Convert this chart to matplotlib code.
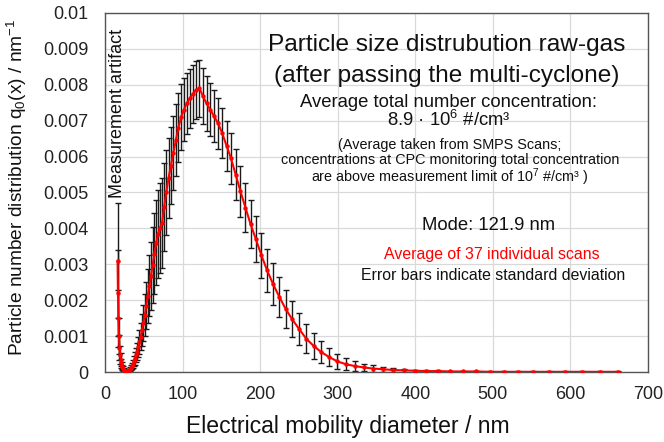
import matplotlib
matplotlib.use("Agg")
import matplotlib.pyplot as plt
from matplotlib.ticker import FixedLocator, FixedFormatter

plt.rcParams['font.family'] = ['Liberation Sans', 'DejaVu Sans']
plt.rcParams['mathtext.fontset'] = 'custom'
plt.rcParams['mathtext.rm'] = 'Liberation Sans'
plt.rcParams['mathtext.it'] = 'Liberation Sans'
plt.rcParams['mathtext.default'] = 'regular'

# Electrical mobility diameter (nm), SMPS channels
diameter = [16.3, 16.8, 17.5, 18.1, 18.8, 19.5, 20.2, 20.9, 21.7, 22.5, 23.3, 24.1,
            25.0, 25.9, 26.9, 27.9, 28.9, 30.0, 31.1, 32.2, 33.4, 34.6, 35.9, 37.2,
            38.5, 40.0, 41.4, 42.9, 44.5, 46.1, 47.8, 49.6, 51.4, 53.3, 55.2, 57.3,
            59.4, 61.5, 63.8, 66.1, 68.5, 71.0, 73.7, 76.4, 79.1, 82.0, 85.1, 88.2,
            91.4, 94.7, 98.2, 101.8, 105.5, 109.4, 113.4, 117.6, 121.9, 126.3, 131.0,
            135.8, 140.7, 145.9, 151.2, 156.8, 162.5, 168.5, 174.7, 181.1, 187.7,
            194.6, 201.7, 209.1, 216.7, 224.7, 232.9, 241.4, 250.3, 259.5, 269.0,
            278.8, 289.0, 299.6, 310.6, 322.0, 333.8, 346.0, 358.7, 371.8, 385.4,
            399.5, 414.2, 429.4, 445.1, 461.4, 478.3, 495.8, 514.0, 532.8, 552.3,
            572.5, 593.5, 615.3, 637.8, 661.2]

# Mean number distribution q0 (1/nm)
q0_mean = [0.0031, 0.0022, 0.0015, 0.0010, 0.00068, 0.00048, 0.00034, 0.00025, 0.00018,
           0.00013, 0.00010, 0.00007, 0.00005, 0.00003, 0.00002, 0.00002, 0.00002,
           0.00003, 0.00005, 0.00008, 0.00012, 0.00017, 0.00023, 0.00030, 0.00038,
           0.00047, 0.00057, 0.00069, 0.00083, 0.00099, 0.00117, 0.00137, 0.00160,
           0.00185, 0.00212, 0.00240, 0.00268, 0.00298, 0.00330, 0.00360, 0.00385,
           0.00402, 0.00415, 0.00460, 0.00500, 0.00540, 0.00575, 0.00610, 0.00645,
           0.00680, 0.00710, 0.00730, 0.00748, 0.00762, 0.00775, 0.00785, 0.00790,
           0.00768, 0.00748, 0.00730, 0.00712, 0.00692, 0.00665, 0.00630, 0.00595,
           0.00550, 0.00503, 0.00458, 0.00412, 0.00370, 0.00325, 0.00283, 0.00245,
           0.00210, 0.00176, 0.00147, 0.00120, 0.00093, 0.00073, 0.00056, 0.00042,
           0.00030, 0.00022, 0.00017, 0.00013, 0.00010, 0.00008, 0.00006, 0.00005,
           0.00004, 0.00003, 0.00003, 0.00002, 0.00002, 0.00002, 0.00001, 0.00001,
           0.00001, 0.00001, 0.00001, 0.00001, 0.00001, 0.00001, 0.00001]

# Standard deviation (1/nm)
q0_std = [0.0016, 0.0012, 0.0008, 0.0005, 0.00035, 0.00025, 0.00018, 0.00013, 0.00010,
          0.00008, 0.00006, 0.00005, 0.00004, 0.00003, 0.00002, 0.00002, 0.00002,
          0.00003, 0.00004, 0.00005, 0.00007, 0.00009, 0.00011, 0.00014, 0.00017,
          0.00020, 0.00024, 0.00028, 0.00033, 0.00038, 0.00044, 0.00050, 0.00058,
          0.00066, 0.00075, 0.00085, 0.00095, 0.00105, 0.00112, 0.00118, 0.00122,
          0.00125, 0.00125, 0.00122, 0.00118, 0.00112, 0.00108, 0.00104, 0.00100,
          0.00096, 0.00092, 0.00088, 0.00085, 0.00083, 0.00081, 0.00080, 0.00079,
          0.00078, 0.00076, 0.00074, 0.00072, 0.00070, 0.00070, 0.00070, 0.00070,
          0.00070, 0.00070, 0.00068, 0.00066, 0.00064, 0.00062, 0.00060, 0.00058,
          0.00056, 0.00054, 0.00050, 0.00045, 0.00040, 0.00035, 0.00030, 0.00025,
          0.00020, 0.00017, 0.00014, 0.00011, 0.00009, 0.00007, 0.00005, 0.00004,
          0.00003, 0.00003, 0.00002, 0.00002, 0.00002, 0.00001, 0.00001, 0.00001,
          0.00001, 0.00001, 0.00001, 0.00001, 0.00001, 0.00001, 0.00001]

x_ticks = [0, 100, 200, 300, 400, 500, 600, 700]
y_ticks = [0, 0.001, 0.002, 0.003, 0.004, 0.005, 0.006, 0.007, 0.008, 0.009, 0.01]
y_tick_labels = ["0", "0.001", "0.002", "0.003", "0.004", "0.005", "0.006",
                 "0.007", "0.008", "0.009", "0.01"]

fig = plt.figure(figsize=(6.64, 4.42), dpi=100)
ax = fig.add_axes([0.158, 0.158, 0.818, 0.813])

ax.errorbar(diameter, q0_mean, yerr=q0_std, fmt='none', ecolor='#1a1a1a',
            elinewidth=1.0, capsize=2.2, capthick=1.0, zorder=2)
ax.plot(diameter, q0_mean, color='#ff0000', lw=1.5, marker='o', ms=3.2,
        markeredgewidth=0, zorder=3)

ax.set_xlim(0, 700)
ax.set_ylim(0, 0.01)
ax.xaxis.set_major_locator(FixedLocator(x_ticks))
ax.yaxis.set_major_locator(FixedLocator(y_ticks))
ax.yaxis.set_major_formatter(FixedFormatter(y_tick_labels))
ax.grid(True, color='#d9d9d9', lw=0.9, zorder=0)
ax.set_axisbelow(True)
ax.tick_params(axis='both', length=0, labelsize=13, colors='#222222')
ax.tick_params(axis='x', pad=10)
ax.tick_params(axis='y', pad=12)
for s in ax.spines.values():
    s.set_color('#555555')
    s.set_linewidth(1.0)

ax.set_xlabel("Electrical mobility diameter / nm", fontsize=16.6, color='#111111')
ax.xaxis.set_label_coords(0.448, -0.118)
ax.set_ylabel("Particle number distribution q$_0$(x) / nm$^{-1}$", fontsize=13.8,
              color='#111111')
ax.yaxis.set_label_coords(-0.14, 0.515)

tc = '#111111'
fig.text(447/664, 1 - 45/442, "Particle size distrubution raw-gas", fontsize=17.6,
         ha='center', va='center', color=tc)
fig.text(447/664, 1 - 76/442, "(after passing the multi-cyclone)", fontsize=17.6,
         ha='center', va='center', color=tc)
fig.text(449/664, 1 - 102/442, "Average total number concentration:", fontsize=13.3,
         ha='center', va='center', color=tc)
fig.text(449/664, 1 - 120/442, "8.9 \u00b7 10$^{6}$ #/cm\u00b3", fontsize=13.3,
         ha='center', va='center', color=tc)
fig.text(450/664, 1 - 145/442, "(Average taken from SMPS Scans;", fontsize=10.4,
         ha='center', va='center', color=tc)
fig.text(450/664, 1 - 160/442, "concentrations at CPC monitoring total concentration",
         fontsize=10.4, ha='center', va='center', color=tc)
fig.text(450/664, 1 - 177/442, "are above measurement limit of 10$^{7}$ #/cm\u00b3 )",
         fontsize=10.4, ha='center', va='center', color=tc)
fig.text(489/664, 1 - 225/442, "Mode: 121.9 nm", fontsize=13.3, ha='center',
         va='center', color=tc)
fig.text(600/664, 1 - 254/442, "Average of 37 individual scans", fontsize=11.4,
         ha='right', va='center', color='#ff0000')
fig.text(625/664, 1 - 275/442, "Error bars indicate standard deviation", fontsize=11.4,
         ha='right', va='center', color=tc)
fig.text(118/664, 1 - 113/442, "Measurement artifact", fontsize=13, rotation=90,
         ha='center', va='center', color=tc)

fig.savefig("out.png", dpi=100)
